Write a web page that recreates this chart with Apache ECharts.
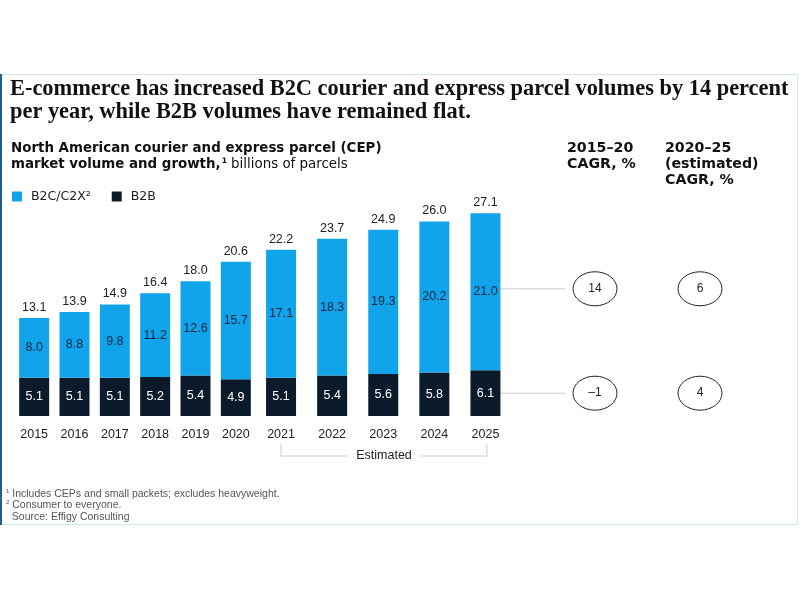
<!DOCTYPE html>
<html><head><meta charset="utf-8">
<script src="https://cdn.jsdelivr.net/npm/echarts@6/dist/echarts.min.js"></script>
<style>html,body{margin:0;padding:0;background:#fff}#c{width:800px;height:600px}</style>
</head><body><div id="c"></div>
<script>
const years = ['2015','2016','2017','2018','2019','2020','2021','2022','2023','2024','2025'];
const b2b = [5.1,5.1,5.1,5.2,5.4,4.9,5.1,5.4,5.6,5.8,6.1];
const b2c = [8.0,8.8,9.8,11.2,12.6,15.7,17.1,18.3,19.3,20.2,21.0];
const totals = [13.1,13.9,14.9,16.4,18.0,20.6,22.2,23.7,24.9,26.0,27.1];
const cagr1520 = ['14','–1'];
const cagr2025 = ['6','4'];
const firstEstimated = 6; // 2021 onwards are estimates

const BLUE = '#12a4ea', NAVY = '#0c1b2b';
const chart = echarts.init(document.getElementById('c'), null, {renderer:'canvas'});
const sans = 'Liberation Sans, Arial, sans-serif';
const wide = 'DejaVu Sans, sans-serif';

function seriesFor(gi, from, to){
  const yrs = years.slice(from,to);
  return [{
    name:'B2B', type:'bar', stack:'t'+gi, xAxisIndex:gi, yAxisIndex:gi, data:b2b.slice(from,to), barWidth:30,
    itemStyle:{color:NAVY},
    label:{show:true, position:'inside', color:'#fff', fontSize:12.5, fontFamily:sans, formatter:p=>p.value.toFixed(1)}
  },{
    name:'B2C/C2X²', type:'bar', stack:'t'+gi, xAxisIndex:gi, yAxisIndex:gi, data:b2c.slice(from,to), barWidth:30,
    itemStyle:{color:BLUE},
    label:{show:true, position:'inside', color:'#0c2340', fontSize:12.5, fontFamily:sans, formatter:p=>p.value.toFixed(1)}
  },{
    name:'total', type:'bar', stack:'t'+gi, xAxisIndex:gi, yAxisIndex:gi, data:yrs.map(()=>0), barWidth:30,
    itemStyle:{color:'transparent'}, silent:true,
    label:{show:true, position:'top', distance:4, color:'#222', fontSize:12.5, fontFamily:sans,
      formatter:p=>totals[from+p.dataIndex].toFixed(1)}
  }];
}
const xAx = (gi, from, to) => ({
  type:'category', gridIndex:gi, data:years.slice(from,to),
  axisLine:{show:false}, axisTick:{show:false},
  axisLabel:{fontSize:12.5, color:'#222', margin:12, fontFamily:sans}
});
const yAx = gi => ({type:'value', gridIndex:gi, min:0, max:30, show:false, splitLine:{show:false}});

const option = {
  animation:false,
  textStyle:{fontFamily:sans},
  title:[{
    text:'E-commerce has increased B2C courier and express parcel volumes by 14 percent\nper year, while B2B volumes have remained flat.',
    left:10, top:78, padding:0,
    textStyle:{fontFamily:'Liberation Serif, DejaVu Serif, serif', fontWeight:'bold', fontSize:22.4, lineHeight:23, color:'#111'}
  },{
    text:'{b|North American courier and express parcel (CEP)}\n{b|market volume and growth,}{sup|1}{n| billions of parcels}',
    left:11, top:141, padding:0,
    textStyle:{rich:{
      b:{fontFamily:wide, fontWeight:'bold', fontSize:13.4, color:'#111', lineHeight:16},
      sup:{fontFamily:wide, fontWeight:'bold', fontSize:7.5, color:'#111', lineHeight:16, verticalAlign:'top', padding:[0,0,0,1]},
      n:{fontFamily:wide, fontWeight:'normal', fontSize:13.4, color:'#111', lineHeight:16}
    }}
  },{
    text:'2015–20\nCAGR, %', left:567, top:140, padding:0,
    textStyle:{fontFamily:wide, fontWeight:'bold', fontSize:14.2, lineHeight:16, color:'#111'}
  },{
    text:'2020–25\n(estimated)\nCAGR, %', left:665, top:140, padding:0,
    textStyle:{fontFamily:wide, fontWeight:'bold', fontSize:14.2, lineHeight:16, color:'#111'}
  },{
    text:'{s|1} Includes CEPs and small packets; excludes heavyweight.\n{s|2} Consumer to everyone.\n  Source: Effigy Consulting',
    left:6, top:488, padding:0,
    textStyle:{fontFamily:sans, fontSize:10.5, lineHeight:11.5, color:'#555', fontWeight:'normal',
      rich:{s:{fontSize:6, color:'#555', verticalAlign:'top', lineHeight:11.5}}}
  }],
  legend:{
    left:12, top:190, padding:0, itemWidth:10, itemHeight:10, icon:'rect', itemGap:21,
    textStyle:{fontSize:12.5, color:'#222', fontFamily:wide, padding:[0,0,0,4]},
    data:['B2C/C2X²','B2B']
  },
  grid:[
    {left:14, width:242, top:191.5, height:224.5},
    {left:255.5, width:255.5, top:191.5, height:224.5}
  ],
  xAxis:[xAx(0,0,firstEstimated), xAx(1,firstEstimated,years.length)],
  yAxis:[yAx(0), yAx(1)],
  series:[...seriesFor(0,0,firstEstimated), ...seriesFor(1,firstEstimated,years.length)]
};
chart.setOption(option);

// annotations positioned from the chart's scales
const nEst = years.length - firstEstimated;
const lastI = years.length - 1;
const pA = chart.convertToPixel({gridIndex:1}, [0, 0]);
const pB = chart.convertToPixel({gridIndex:1}, [nEst-1, 0]);
const yC = chart.convertToPixel({gridIndex:1}, [nEst-1, b2b[lastI] + b2c[lastI]/2])[1] - 3;
const yB = chart.convertToPixel({gridIndex:1}, [nEst-1, b2b[lastI]/2])[1];
const barRight = pB[0] + 15;
const bx0 = pA[0], bx1 = pB[0] + 1.5, byTop = 444, byBot = 456;
const midX = (bx0+bx1)/2;
const gray = '#c9cdd1';
const lineStyle = {stroke:gray, lineWidth:1};
const c1 = 595, c2 = 700;
const g = [
  {type:'rect', shape:{x:0.5, y:74.5, width:797, height:450}, style:{fill:'none', stroke:'#cfe6ee', lineWidth:1}, z:-1},
  {type:'line', shape:{x1:1, y1:74, x2:1, y2:525}, style:{stroke:'#1f5f8b', lineWidth:2}},
  {type:'polyline', shape:{points:[[bx0,byTop],[bx0,byBot],[midX-36,byBot]]}, style:lineStyle},
  {type:'polyline', shape:{points:[[midX+37,byBot],[bx1,byBot],[bx1,byTop]]}, style:lineStyle},
  {type:'text', x:midX, y:byBot, style:{text:'Estimated', fontSize:12.5, fontFamily:sans, fill:'#222', align:'center', verticalAlign:'middle'}},
  {type:'line', shape:{x1:barRight, y1:yC, x2:c1-30, y2:yC}, style:lineStyle},
  {type:'line', shape:{x1:barRight, y1:yB, x2:c1-30, y2:yB}, style:lineStyle}
];
[[c1,yC,cagr1520[0]],[c2,yC,cagr2025[0]],[c1,yB,cagr1520[1]],[c2,yB,cagr2025[1]]].forEach(([x,y,t])=>{
  g.push({type:'ellipse', shape:{cx:x, cy:y, rx:22, ry:17}, style:{fill:'#fff', stroke:'#222', lineWidth:1}});
  g.push({type:'text', x:x, y:y, style:{text:t, fontSize:12, fontFamily:sans, fill:'#222', align:'center', verticalAlign:'middle'}});
});
chart.setOption({graphic:g});
</script></body></html>
